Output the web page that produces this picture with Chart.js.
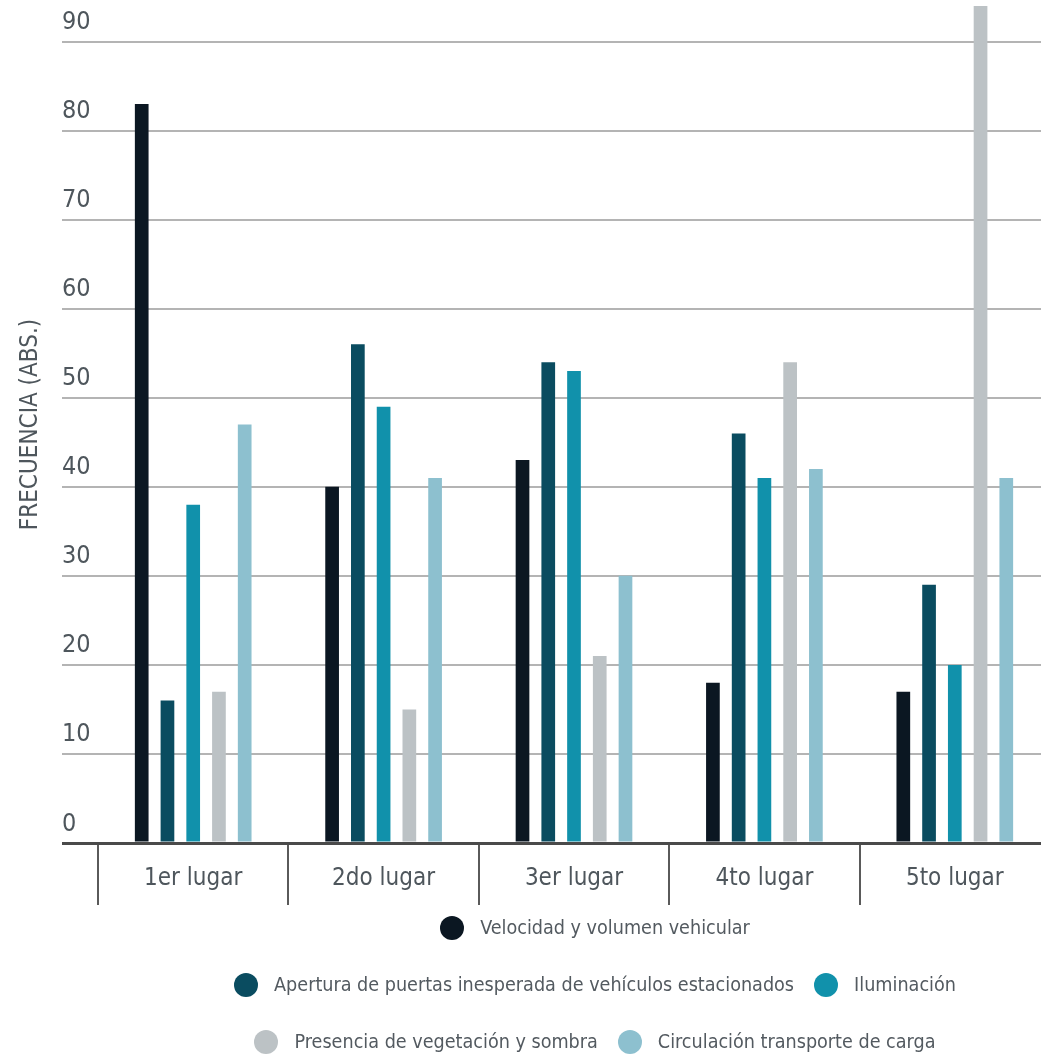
<!DOCTYPE html>
<html lang="es">
<head>
<meta charset="utf-8">
<title>Frecuencia por lugar</title>
<script src="https://cdn.jsdelivr.net/npm/chart.js@4.4.1/dist/chart.umd.min.js"></script>
<style>
  html, body { margin: 0; padding: 0; background: #fff; overflow: hidden; }
  #wrap { position: relative; width: 1050px; height: 1062px; }
  #chart { position: absolute; left: 0; top: 0; }
  #legend {
    position: absolute; left: 215px; top: 899px; width: 760px;
    font-family: "DejaVu Sans Condensed", "Liberation Sans Narrow", "Liberation Sans", sans-serif;
    font-size: 19.6px; color: #535a60;
  }
  #legend ul { list-style: none; margin: 0; padding: 0; display: flex; flex-wrap: wrap; justify-content: center; }
  #legend li { display: flex; align-items: center; height: 57px; margin: 0 10px; white-space: nowrap; }
  #legend .dot { width: 24px; height: 24px; border-radius: 50%; margin-right: 16px; flex: none; }
</style>
</head>
<body>
<div id="wrap">
  <canvas id="chart" width="1050" height="910"></canvas>
  <div id="legend"><ul></ul></div>
</div>
<script>
const FONT = '"DejaVu Sans Condensed", "Liberation Sans Narrow", "Liberation Sans", sans-serif';

const lugares = ['1er lugar', '2do lugar', '3er lugar', '4to lugar', '5to lugar'];

const velocidad   = [83, 40, 43, 18, 17];
const apertura    = [16, 56, 54, 46, 29];
const iluminacion = [38, 49, 53, 41, 20];
const vegetacion  = [17, 15, 21, 54, 94];
const circulacion = [47, 41, 30, 42, 41];

const yTicks = [0, 10, 20, 30, 40, 50, 60, 70, 80, 90];

const series = [
  { label: 'Velocidad y volumen vehicular', data: velocidad, color: '#0b1722' },
  { label: 'Apertura de puertas inesperada de vehículos estacionados', data: apertura, color: '#0a4c60' },
  { label: 'Iluminación', data: iluminacion, color: '#1191ab' },
  { label: 'Presencia de vegetación y sombra', data: vegetacion, color: '#bcc2c5' },
  { label: 'Circulación transporte de carga', data: circulacion, color: '#8dc0cf' }
];

// legend rendered as html list under the canvas
const htmlLegend = {
  id: 'htmlLegend',
  afterUpdate(chart) {
    const ul = document.querySelector('#legend ul');
    ul.innerHTML = '';
    chart.options.plugins.legend.labels.generateLabels(chart).forEach(item => {
      const li = document.createElement('li');
      const dot = document.createElement('span');
      dot.className = 'dot';
      dot.style.background = item.fillStyle;
      const txt = document.createElement('span');
      txt.textContent = item.text;
      li.append(dot, txt);
      ul.appendChild(li);
    });
  }
};

const chart = new Chart(document.getElementById('chart'), {
  type: 'bar',
  data: {
    labels: lugares,
    datasets: series.map(s => ({
      label: s.label,
      data: s.data,
      backgroundColor: s.color,
      borderWidth: 0,
      categoryPercentage: 0.676,
      barPercentage: 0.532
    }))
  },
  options: {
    responsive: false,
    animation: false,
    layout: { padding: { top: 6, left: 0, right: 0, bottom: 0 } },
    plugins: {
      legend: { display: false },
      tooltip: { enabled: false }
    },
    scales: {
      x: {
        grid: {
          offset: true,
          drawOnChartArea: false,
          tickLength: 62,
          color: '#5a5a5a',
          lineWidth: 2
        },
        border: { display: false },
        ticks: {
          padding: -41,
          maxRotation: 0,
          color: '#4e565c',
          font: { family: FONT, size: 24 }
        },
        afterFit: scale => { scale.height = 67; }
      },
      y: {
        min: 0,
        max: 94,
        weight: 0,
        border: { display: false },
        grid: {
          tickLength: 36,
          color: c => (c.tick && c.tick.value === 0) ? '#4a4a4a' : '#b4b4b4',
          lineWidth: c => (c.tick && c.tick.value === 0) ? 3 : 2
        },
        ticks: {
          stepSize: 10,
          crossAlign: 'far',
          labelOffset: -19,
          padding: 0,
          color: '#4e565c',
          font: { family: FONT, size: 25 }
        },
        afterBuildTicks: axis => {
          axis.ticks = yTicks.map(v => ({ value: v }));
        },
        afterFit: scale => {
          scale.width = 36;
          scale.paddingTop = 0;
          scale.paddingBottom = 0;
        }
      },
      yTitle: {
        type: 'linear',
        position: 'left',
        weight: 1,
        grid: { display: false },
        border: { display: false },
        ticks: { display: false },
        title: {
          display: true,
          text: 'FRECUENCIA (ABS.)',
          color: '#4e565c',
          padding: { top: 16, bottom: 0 },
          font: { family: FONT, size: 24 }
        },
        afterFit: scale => {
          scale.width = 62;
          scale.paddingTop = 0;
          scale.paddingBottom = 0;
        }
      }
    }
  },
  plugins: [htmlLegend]
});
</script>
</body>
</html>
